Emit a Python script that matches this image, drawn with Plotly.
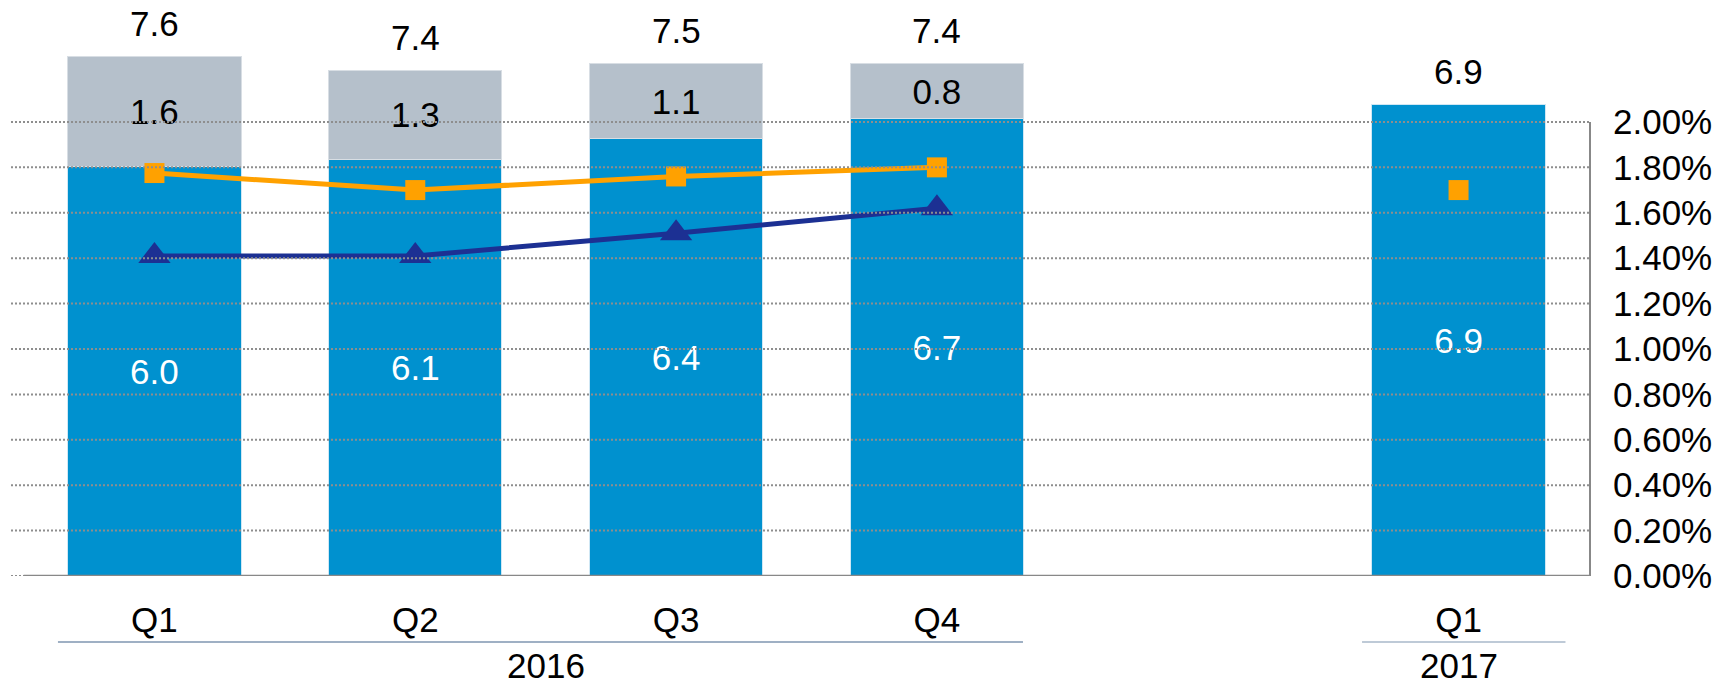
import plotly.graph_objects as go

# ---- data ----
categories = ["Q1", "Q2", "Q3", "Q4", "Q1"]
years = ["2016", "2016", "2016", "2016", "2017"]
base_values = [6.0, 6.1, 6.4, 6.7, 6.9]
top_values = [1.6, 1.3, 1.1, 0.8, None]
total_labels = [7.6, 7.4, 7.5, 7.4, 6.9]
orange_pct = [1.775, 1.70, 1.76, 1.80, 1.70]
navy_pct = [1.41, 1.41, 1.51, 1.62, None]
pct_ticks = [0.0, 0.2, 0.4, 0.6, 0.8, 1.0, 1.2, 1.4, 1.6, 1.8, 2.0]

# ---- styles ----
FONT = "Liberation Sans, Arial, sans-serif"
FS = 35
BLUE = "#0091CF"
GRAY = "#B5C0CB"
ORANGE = "#FFA100"
NAVY = "#1C3093"
GRID = "#8E8E8E"

# positions: one empty slot between year groups
pos = []
shift = 0
for i, y in enumerate(years):
    if i > 0 and y != years[i - 1]:
        shift += 1
    pos.append(i + shift)

fig = go.Figure()

fig.add_trace(go.Bar(
    x=pos, y=base_values, marker=dict(color=BLUE, line=dict(color="#CFE7F4", width=1)),
    text=[f"{v:.1f}" for v in base_values], textposition="inside",
    insidetextanchor="middle", textangle=0, constraintext="none",
    textfont=dict(color="white", size=FS, family=FONT), yaxis="y", showlegend=False,
))
fig.add_trace(go.Bar(
    x=pos, y=top_values, marker=dict(color=GRAY, line=dict(color="#D8DEE4", width=1)),
    text=[("" if v is None else f"{v:.1f}") for v in top_values], textposition="inside",
    insidetextanchor="middle", textangle=0, constraintext="none",
    textfont=dict(color="black", size=FS, family=FONT), yaxis="y", showlegend=False,
))

# lines grouped by year
for yr in sorted(set(years)):
    idx = [i for i, y in enumerate(years) if y == yr]
    fig.add_trace(go.Scatter(
        x=[pos[i] for i in idx], y=[orange_pct[i] / 100 for i in idx],
        mode="lines+markers", line=dict(color=ORANGE, width=5),
        marker=dict(symbol="square", size=20, color=ORANGE),
        yaxis="y2", showlegend=False, cliponaxis=False,
    ))
    nv = [(pos[i], navy_pct[i]) for i in idx if navy_pct[i] is not None]
    if nv:
        fig.add_trace(go.Scatter(
            x=[p for p, _ in nv], y=[v / 100 for _, v in nv],
            mode="lines+markers", line=dict(color=NAVY, width=5),
            marker=dict(symbol="triangle-up", size=28, color=NAVY),
            yaxis="y2", showlegend=False, cliponaxis=False,
        ))

# total labels above stacks
annotations = []
for i, t in enumerate(total_labels):
    stack_top = base_values[i] + (top_values[i] or 0)
    annotations.append(dict(
        x=pos[i], y=stack_top, xref="x", yref="y", text=f"{t:.1f}",
        showarrow=False, yanchor="bottom", yshift=12,
        font=dict(size=FS, color="black", family=FONT),
    ))

# year group labels and lines
shapes = []
group_colors = {"2016": "#7F96B0", "2017": "#A9B9CA"}
for yr in sorted(set(years)):
    idx = [i for i, y in enumerate(years) if y == yr]
    x0 = pos[idx[0]] - 0.37
    x1 = pos[idx[-1]] + (0.33 if yr == "2016" else 0.41)
    shapes.append(dict(type="line", xref="x", yref="paper", x0=x0, x1=x1,
                       y0=-0.116, y1=-0.116, line=dict(color=group_colors[yr], width=1.5)))
    annotations.append(dict(
        x=(pos[idx[0]] + pos[idx[-1]]) / 2, y=-0.1937, xref="x", yref="paper",
        text=yr, showarrow=False, yanchor="bottom", borderpad=0,
        font=dict(size=FS, color="black", family=FONT),
    ))

# dotted gridlines (above bars)
for t in pct_ticks:
    shapes.append(dict(type="line", xref="paper", yref="y2", x0=0, x1=1,
                       y0=t / 100, y1=t / 100, layer="above",
                       line=dict(color=GRID, width=2, dash="2px,2px")))
# baseline and right axis line
shapes.append(dict(type="line", xref="paper", yref="y2", x0=0.008, x1=1, y0=0, y1=0,
                   layer="above", line=dict(color="#888888", width=2.5)))
shapes.append(dict(type="line", xref="paper", yref="y2", x0=1, x1=1, y0=0, y1=pct_ticks[-1] / 100,
                   layer="above", line=dict(color="#888888", width=2)))

fig.update_layout(
    width=1720, height=686,
    margin=dict(l=11, r=123, t=8, b=110),
    paper_bgcolor="white", plot_bgcolor="white",
    barmode="stack", bargap=0.336,
    font=dict(family=FONT, size=FS, color="black"),
    xaxis=dict(range=[-0.55, 5.504], tickvals=pos, ticktext=categories,
               showgrid=False, zeroline=False, showline=False, ticks="",
               tickfont=dict(size=FS), ticklabelstandoff=20),
    yaxis=dict(range=[0, 8.316], visible=False, showgrid=False, zeroline=False),
    yaxis2=dict(range=[0, 0.02502], overlaying="y", side="right",
                tickvals=[t / 100 for t in pct_ticks], tickformat=".2%",
                showgrid=False, zeroline=False, showline=False, ticks="",
                tickfont=dict(size=FS), ticklabelstandoff=22),
    annotations=annotations, shapes=shapes,
    showlegend=False,
)

fig.write_html("out.html", config={"displayModeBar": False},
               post_script="document.body.style.margin='0';document.body.style.overflow='hidden';")
